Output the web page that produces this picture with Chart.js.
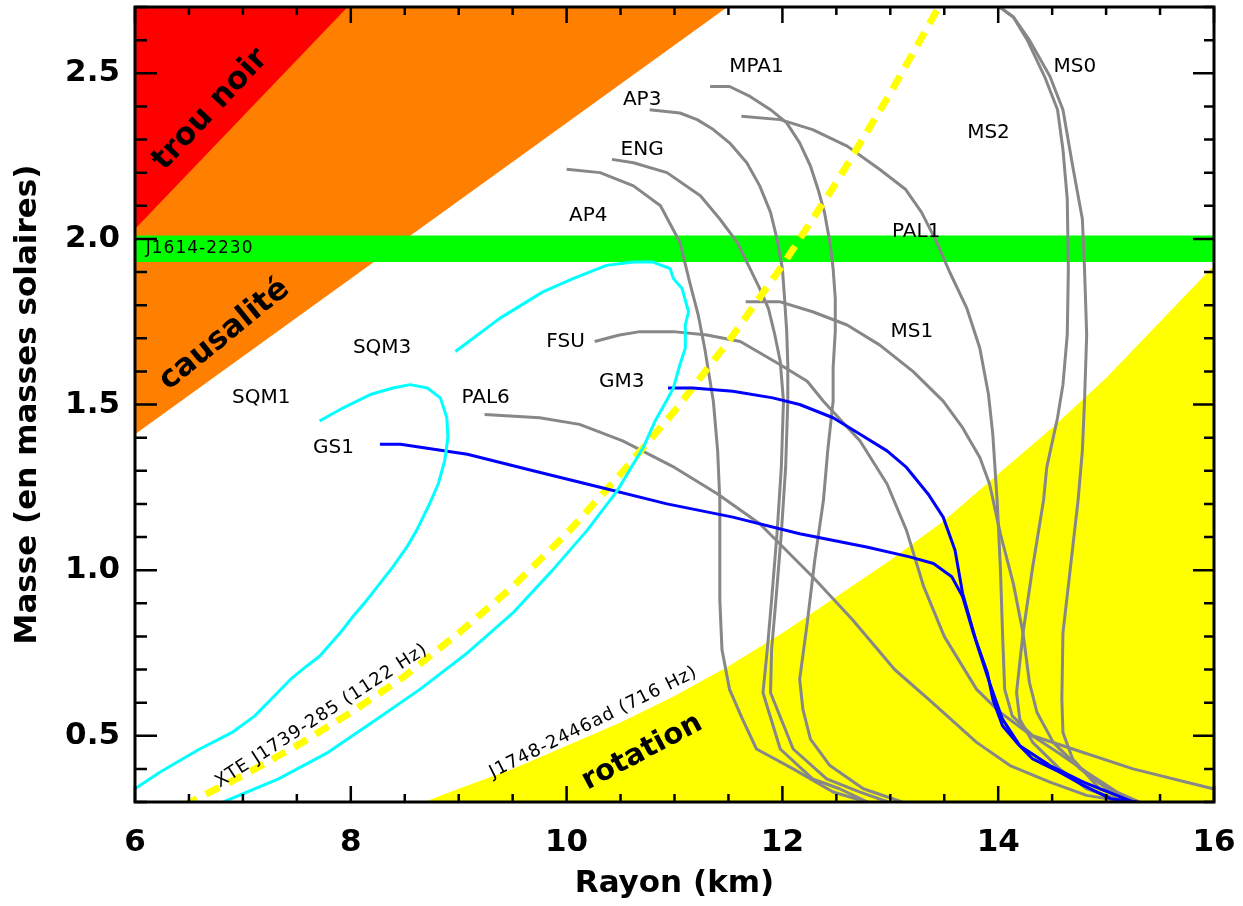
<!DOCTYPE html>
<html>
<head>
<meta charset="utf-8">
<title>Masse - rayon des étoiles à neutrons</title>
<script src="https://cdn.jsdelivr.net/npm/chart.js@4"></script>
<style>
    html, body { margin: 0; padding: 0; background: #fff; }
    #wrap { width: 1243px; height: 906px; }
</style>
</head>
<body>
<div id="wrap"><canvas id="mrChart"></canvas></div>
<script>
// axes
const xTicks = [6, 8, 10, 12, 14, 16];
const yTicks = [0.5, 1.0, 1.5, 2.0, 2.5];

// zones interdites
const blackHoleR = [6.00, 7.97];
const blackHoleM = [2.03, 2.70];
const causalR = [6.00, 11.49];
const causalM = [1.41, 2.70];
const j1614R = [6, 16];
const j1614Top = 2.01;
const j1614Bottom = 1.93;
const rotR = [8.68, 9.0, 9.5, 10.0, 10.5, 11.0, 11.5, 12.0, 12.5, 13.0, 13.5, 14.0, 14.5, 15.0, 15.5, 16.0];
const rotM = [0.30, 0.34, 0.40, 0.47, 0.54, 0.62, 0.71, 0.81, 0.92, 1.03, 1.15, 1.29, 1.43, 1.58, 1.75, 1.92];
const xteR = [6.45, 7.0, 7.5, 8.0, 8.5, 9.0, 9.5, 10.0, 10.5, 11.0, 11.5, 12.0, 12.5, 13.0, 13.45, 13.5];
const xteM = [0.29, 0.38, 0.47, 0.57, 0.68, 0.81, 0.95, 1.11, 1.29, 1.48, 1.69, 1.92, 2.17, 2.44, 2.70, 2.73];

// equations d'etat (rayon km, masse Msol)
const ap4R = [10.00, 10.31, 10.62, 10.87, 11.05, 11.14, 11.22, 11.28, 11.36, 11.40, 11.42, 11.42, 11.44, 11.51, 11.63, 11.76, 12.10, 12.47, 12.78];
const ap4M = [2.21, 2.20, 2.16, 2.10, 1.99, 1.87, 1.77, 1.67, 1.51, 1.36, 1.21, 0.91, 0.76, 0.64, 0.55, 0.46, 0.40, 0.33, 0.30];
const engR = [10.42, 10.62, 10.93, 11.24, 11.42, 11.58, 11.70, 11.79, 11.87, 11.93, 11.98, 12.01, 11.99, 11.95, 11.90, 11.86, 11.82, 11.98, 12.28, 12.53, 12.79];
const engM = [2.24, 2.23, 2.20, 2.13, 2.06, 1.99, 1.91, 1.85, 1.79, 1.71, 1.63, 1.51, 1.31, 1.11, 0.91, 0.76, 0.63, 0.46, 0.37, 0.34, 0.30];
const ap3R = [10.77, 11.05, 11.21, 11.36, 11.51, 11.67, 11.79, 11.89, 11.95, 12.00, 12.02, 12.04, 12.05, 12.05, 12.03, 11.99, 11.94, 11.90, 11.89, 12.10, 12.41, 12.72, 12.98];
const ap3M = [2.39, 2.38, 2.36, 2.33, 2.29, 2.23, 2.16, 2.08, 2.00, 1.91, 1.82, 1.72, 1.62, 1.51, 1.31, 1.11, 0.91, 0.76, 0.63, 0.46, 0.37, 0.33, 0.30];
const mpa1R = [11.33, 11.51, 11.70, 11.89, 12.04, 12.16, 12.26, 12.33, 12.39, 12.44, 12.47, 12.49, 12.49, 12.47, 12.47, 12.42, 12.38, 12.30, 12.23, 12.16, 12.19, 12.26, 12.44, 12.75, 13.11];
const mpa1M = [2.46, 2.46, 2.43, 2.39, 2.35, 2.29, 2.22, 2.15, 2.08, 1.99, 1.91, 1.82, 1.72, 1.61, 1.51, 1.36, 1.21, 1.03, 0.84, 0.67, 0.58, 0.49, 0.41, 0.34, 0.30];
const pal1R = [11.62, 11.98, 12.28, 12.60, 12.90, 13.14, 13.29, 13.43, 13.55, 13.71, 13.83, 13.91, 13.95, 13.99, 14.02, 14.04, 14.06, 14.13, 14.32, 14.69, 15.25, 15.99, 16.10];
const pal1M = [2.37, 2.36, 2.33, 2.28, 2.21, 2.15, 2.08, 1.99, 1.90, 1.79, 1.67, 1.53, 1.41, 1.21, 1.01, 0.81, 0.64, 0.56, 0.50, 0.46, 0.40, 0.34, 0.335];
const ms1R = [11.66, 11.98, 12.28, 12.60, 12.90, 13.21, 13.49, 13.67, 13.83, 13.92, 14.02, 14.14, 14.23, 14.29, 14.36, 14.51, 14.76, 15.01, 15.25];
const ms1M = [1.81, 1.81, 1.78, 1.74, 1.68, 1.60, 1.51, 1.43, 1.34, 1.26, 1.11, 0.96, 0.81, 0.66, 0.57, 0.48, 0.40, 0.34, 0.30];
const ms2R = [13.97, 14.14, 14.27, 14.43, 14.55, 14.60, 14.64, 14.65, 14.64, 14.60, 14.55, 14.45, 14.42, 14.32, 14.23, 14.17, 14.20, 14.32, 14.57, 14.82, 15.18];
const ms2M = [2.71, 2.67, 2.60, 2.49, 2.39, 2.27, 2.12, 1.91, 1.71, 1.56, 1.46, 1.31, 1.21, 1.01, 0.81, 0.63, 0.55, 0.48, 0.40, 0.34, 0.30];
const ms0R = [13.97, 14.14, 14.29, 14.48, 14.60, 14.69, 14.78, 14.80, 14.82, 14.80, 14.78, 14.74, 14.67, 14.60, 14.59, 14.60, 14.69, 14.94, 15.31];
const ms0M = [2.71, 2.67, 2.60, 2.49, 2.39, 2.22, 2.06, 1.91, 1.71, 1.51, 1.36, 1.21, 1.01, 0.81, 0.61, 0.51, 0.43, 0.34, 0.30];
const fsuR = [10.26, 10.49, 10.68, 10.99, 11.30, 11.61, 11.98, 12.23, 12.38, 12.72, 12.97, 13.15, 13.31, 13.50, 13.80, 14.02, 14.27, 14.55, 14.82, 15.10, 15.31];
const fsuM = [1.69, 1.71, 1.72, 1.72, 1.71, 1.69, 1.62, 1.57, 1.51, 1.39, 1.26, 1.12, 0.95, 0.80, 0.64, 0.57, 0.51, 0.45, 0.39, 0.33, 0.30];
const pal6R = [9.24, 9.75, 10.12, 10.52, 11.00, 11.40, 11.79, 12.28, 12.65, 13.04, 13.39, 13.80, 14.11, 14.48, 14.82, 15.19];
const pal6M = [1.47, 1.46, 1.44, 1.39, 1.31, 1.23, 1.14, 0.98, 0.85, 0.70, 0.60, 0.48, 0.41, 0.36, 0.32, 0.30];
const gs1R = [8.27, 8.46, 9.08, 9.69, 10.31, 10.93, 11.54, 12.16, 12.78, 13.18, 13.40, 13.57, 13.67, 13.77, 13.90, 13.95, 14.04, 14.17, 14.32, 14.57, 14.79, 15.04, 15.29];
const gs1M = [1.38, 1.38, 1.35, 1.30, 1.25, 1.20, 1.16, 1.11, 1.07, 1.04, 1.02, 0.98, 0.92, 0.81, 0.69, 0.61, 0.53, 0.48, 0.43, 0.39, 0.35, 0.31, 0.30];
const gm3R = [10.94, 11.17, 11.54, 11.91, 12.16, 12.47, 12.72, 12.97, 13.15, 13.35, 13.49, 13.60, 13.67, 13.80, 13.92, 14.04, 14.20, 14.48, 14.79, 15.25];
const gm3M = [1.55, 1.55, 1.54, 1.52, 1.50, 1.46, 1.41, 1.36, 1.31, 1.23, 1.16, 1.06, 0.93, 0.78, 0.66, 0.55, 0.47, 0.41, 0.36, 0.30];
const sqm1R = [7.71, 7.93, 8.18, 8.39, 8.55, 8.71, 8.83, 8.89, 8.90, 8.87, 8.81, 8.73, 8.61, 8.52, 8.39, 8.27, 8.15, 8.02, 7.90, 7.71, 7.59, 7.44, 7.32, 7.11, 6.90, 6.60, 6.44, 6.23, 6.00];
const sqm1M = [1.45, 1.49, 1.53, 1.55, 1.56, 1.55, 1.52, 1.46, 1.40, 1.33, 1.26, 1.20, 1.12, 1.07, 1.01, 0.96, 0.91, 0.86, 0.81, 0.74, 0.71, 0.67, 0.63, 0.56, 0.51, 0.46, 0.43, 0.39, 0.34];
const sqm3R = [8.97, 9.38, 9.78, 10.06, 10.37, 10.62, 10.80, 10.96, 10.99, 11.07, 11.13, 11.10, 11.10, 11.05, 10.99, 10.89, 10.82, 10.71, 10.47, 10.19, 9.87, 9.50, 9.08, 8.64, 8.24, 7.79, 7.33, 6.82];
const sqm3M = [1.66, 1.76, 1.84, 1.88, 1.92, 1.93, 1.93, 1.91, 1.88, 1.85, 1.78, 1.74, 1.67, 1.62, 1.55, 1.49, 1.45, 1.37, 1.24, 1.12, 1.00, 0.87, 0.75, 0.64, 0.55, 0.45, 0.37, 0.30];

// etiquettes des courbes : texte, rayon, masse
const curveLabels = [
    ['MPA1', 11.76, 2.52], ['AP3', 10.70, 2.42], ['ENG', 10.70, 2.27], ['AP4', 10.20, 2.07],
    ['MS0', 14.71, 2.52], ['MS2', 13.91, 2.32], ['PAL1', 13.24, 2.02], ['MS1', 13.20, 1.72],
    ['FSU', 9.99, 1.69], ['GM3', 10.51, 1.57], ['PAL6', 9.25, 1.52],
    ['SQM3', 8.29, 1.67], ['SQM1', 7.17, 1.52], ['GS1', 7.84, 1.37]
];
// texte, rayon, masse, angle (deg), taille
const zoneLabels = [['trou noir', 6.70, 2.39, -47, 31], ['causalité', 6.83, 1.71, -39, 31], ['rotation', 10.70, 0.45, -28, 29]];
const freqLabels = [['XTE J1739-285 (1122 Hz)', 7.73, 0.56, -33], ['J1748-2446ad (716 Hz)', 10.25, 0.54, -26.5]];

function pts(r, m) {
    return r.map((v, i) => ({ x: v, y: m[i] }));
}

function curve(r, m, color, order) {
    return {
        data: pts(r, m), showLine: true, borderColor: color, borderWidth: 3,
        pointRadius: 0, tension: 0, fill: false, order: order, clip: 0,
        borderJoinStyle: 'round'
    };
}

function zone(r, m, color, fill, order) {
    return {
        data: pts(r, m), showLine: true, borderColor: 'rgba(0,0,0,0)', borderWidth: 0,
        backgroundColor: color, pointRadius: 0, tension: 0, fill: fill, order: order, clip: 0
    };
}

const gray = '#878787';
const datasets = [
    zone(causalR, causalM, '#ff8000', 'end', 20),
    zone(blackHoleR, blackHoleM, '#ff0000', 'end', 19),
    zone(j1614R, [j1614Top, j1614Top], '#00ff00', { value: j1614Bottom }, 18),
    zone(rotR, rotM, '#ffff00', 'start', 17)
];
[[ap4R, ap4M], [engR, engM], [ap3R, ap3M], [mpa1R, mpa1M], [pal1R, pal1M], [ms1R, ms1M],
 [ms2R, ms2M], [ms0R, ms0M], [fsuR, fsuM], [pal6R, pal6M]].forEach(c => datasets.push(curve(c[0], c[1], gray, 10)));
const xte = curve(xteR, xteM, '#ffff00', 8);
xte.borderWidth = 7;
xte.borderDash = [15, 10];
xte.borderCapStyle = 'butt';
datasets.push(xte);
datasets.push(curve(gs1R, gs1M, '#0000ff', 5));
datasets.push(curve(gm3R, gm3M, '#0000ff', 5));
datasets.push(curve(sqm1R, sqm1M, '#00ffff', 4));
datasets.push(curve(sqm3R, sqm3M, '#00ffff', 4));

function rotatedText(ctx, text, px, py, angle) {
    ctx.save();
    ctx.translate(px, py);
    ctx.rotate(angle * Math.PI / 180);
    ctx.fillText(text, 0, 0);
    ctx.restore();
}

const decor = {
    id: 'decor',
    afterDatasetsDraw(chart) {
        const { ctx, scales: { x, y } } = chart;
        ctx.save();
        ctx.fillStyle = '#000';
        ctx.textAlign = 'center';
        ctx.textBaseline = 'middle';
        ctx.font = '20px "DejaVu Sans"';
        curveLabels.forEach(l => ctx.fillText(l[0], x.getPixelForValue(l[1]), y.getPixelForValue(l[2])));

        zoneLabels.forEach(l => {
            ctx.font = 'bold ' + l[4] + 'px "DejaVu Sans"';
            rotatedText(ctx, l[0], x.getPixelForValue(l[1]), y.getPixelForValue(l[2]), l[3]);
        });

        ctx.font = '18px "DejaVu Sans"';
        ctx.letterSpacing = '1px';
        freqLabels.forEach(l => rotatedText(ctx, l[0], x.getPixelForValue(l[1]), y.getPixelForValue(l[2]), l[3]));

        ctx.font = '17px "DejaVu Sans"';
        ctx.textAlign = 'left';
        ctx.fillText('J1614-2230', x.getPixelForValue(6.10), y.getPixelForValue((j1614Top + j1614Bottom) / 2));
        ctx.restore();
    },
    // cadre et graduations interieures sur les 4 cotes
    afterDraw(chart) {
        const { ctx, chartArea: a, scales: { x, y } } = chart;
        ctx.save();
        ctx.strokeStyle = '#000';
        ctx.lineWidth = 2.5;
        ctx.beginPath();
        for (let i = 12; i <= 32; i++) {
            const v = i / 2;
            const px = x.getPixelForValue(v);
            const len = xTicks.includes(v) ? 16 : 8;
            ctx.moveTo(px, a.bottom); ctx.lineTo(px, a.bottom - len);
            ctx.moveTo(px, a.top); ctx.lineTo(px, a.top + len);
        }
        for (let i = 3; i <= 27; i++) {
            const py = y.getPixelForValue(i / 10);
            const major = i % 5 === 0;
            ctx.moveTo(a.left, py); ctx.lineTo(a.left + (major ? 22 : 12), py);
            ctx.moveTo(a.right, py); ctx.lineTo(a.right - (major ? 21 : 10), py);
        }
        ctx.stroke();
        ctx.lineWidth = 3;
        ctx.strokeRect(a.left, a.top, a.right - a.left, a.bottom - a.top);
        ctx.restore();
    }
};

const tickFont = { family: 'DejaVu Sans', size: 31, weight: 'bold' };
const titleFont = { family: 'DejaVu Sans', size: 31, weight: 'bold' };

new Chart(document.getElementById('mrChart'), {
    type: 'scatter',
    data: { datasets: datasets },
    options: {
        responsive: true,
        maintainAspectRatio: false,
        animation: false,
        layout: { padding: { top: 7, right: 29, left: 0, bottom: 0 } },
        plugins: { legend: { display: false }, tooltip: { enabled: false } },
        scales: {
            x: {
                type: 'linear', min: 6, max: 16,
                grid: { display: false, drawTicks: false },
                border: { display: false },
                afterBuildTicks: s => { s.ticks = xTicks.map(v => ({ value: v })); },
                afterFit: s => { s.height = 104; s.paddingLeft = 0; s.paddingRight = 0; },
                ticks: { font: tickFont, color: '#000', padding: 22, maxRotation: 0, autoSkip: false, callback: v => String(v) },
                title: { display: true, text: 'Rayon (km)', font: titleFont, color: '#000', padding: { top: 0, bottom: 3 } }
            },
            y: {
                type: 'linear', min: 0.3, max: 2.7,
                grid: { display: false, drawTicks: false },
                border: { display: false },
                afterBuildTicks: s => { s.ticks = yTicks.map(v => ({ value: v })); },
                afterFit: s => { s.width = 135; s.paddingTop = 0; s.paddingBottom = 0; },
                ticks: { font: tickFont, color: '#000', padding: 15, autoSkip: false, callback: v => Number(v).toFixed(1) },
                title: { display: true, text: 'Masse (en masses solaires)', font: titleFont, color: '#000', padding: { top: 9, bottom: 0 } }
            }
        }
    },
    plugins: [decor]
});
</script>
</body>
</html>
